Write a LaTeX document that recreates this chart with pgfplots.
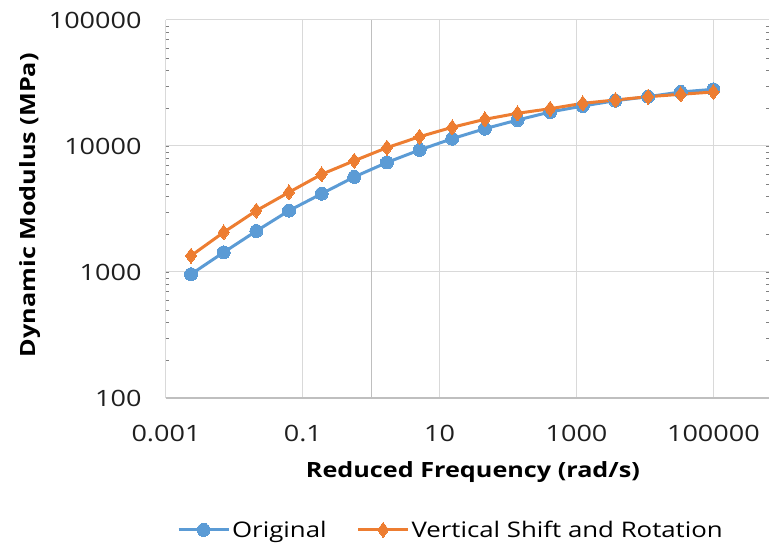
\documentclass[border=0pt]{standalone}
\usepackage{fontspec}
\setmainfont{Open Sans}[FakeStretch=1.2]
\usepackage{pgfplots}
\pgfplotsset{compat=1.18}
\definecolor{cblue}{HTML}{5B9BD5}
\definecolor{corange}{HTML}{ED7D31}
\definecolor{gridgray}{HTML}{D9D9D9}
\definecolor{axisgray}{HTML}{BFBFBF}
\begin{document}
\begin{tikzpicture}
\path[use as bounding box] (-166pt,-150pt) rectangle (603pt,398pt);
\begin{axis}[
  scale only axis,
  width=603pt, height=378pt,
  xmode=log, ymode=log,
  xmin=0.001, xmax=650000,
  ymin=100, ymax=100000,
  xtick={0.001,0.1,10,1000,100000},
  xticklabels={0.001,0.1,10,1000,100000},
  ytick={100,1000,10000,100000},
  yticklabels={100,1000,10000,100000},
  minor xtick={}, minor ytick={},
  major tick length=0pt,
  grid=major,
  major grid style={color=gridgray, line width=1pt},
  axis line style={draw=none},
  clip=false,
  /pgf/number format/assume math mode=true,
  tick label style={font=\fontsize{22.5}{26}\selectfont, text=black!88},
  xticklabel style={yshift=-24pt},
  yticklabel style={xshift=-21pt},
  every axis x label/.style={at={(axis description cs:0.509,-0.196)},anchor=center},
  every axis y label/.style={at={(axis description cs:-0.225,0.51)},rotate=90,anchor=center},
  label style={font=\fontsize{21}{25}\selectfont\bfseries},
  xlabel={Reduced Frequency (rad/s)},
  ylabel={Dynamic Modulus (MPa)},
  legend columns=2,
  legend style={draw=none, at={(axis description cs:0.4726,-0.349)}, anchor=center,
    font=\fontsize{21.5}{25}\selectfont,
    /tikz/every even column/.append style={column sep=28pt}},
  legend image code/.code={\draw[mark repeat=2,mark phase=2] plot coordinates {(0pt,0pt) (25pt,0pt) (50pt,0pt)};},
]
\draw[color=axisgray, line width=1.2pt] (axis cs:0.001,100) -- (axis cs:650000,100);
\draw[color=axisgray, line width=1.2pt] (axis cs:1,100) -- (axis cs:1,100000);
\addplot[color=cblue, line width=3pt, mark=*, mark size=6.5pt, mark options={fill=cblue, draw=cblue, line width=0pt}] coordinates {
(0.0023231,960) (0.0069692,1432) (0.020908,2115) (0.062723,3067) (0.18817,4180)
(0.56450,5680) (1.6935,7400) (5.0805,9300) (15.242,11430) (45.725,13720)
(137.17,16070) (411.52,18620) (1234.57,20770) (3703.7,22890) (11111.1,24620)
(33333.3,26830) (100000,28180)
};
\addlegendentry{Original}
\addplot[color=corange, line width=3pt, mark=diamond*, mark size=7.5pt, mark options={fill=corange, draw=corange, line width=0pt}] coordinates {
(0.0023231,1346) (0.0069692,2066) (0.020908,3067) (0.062723,4292) (0.18817,5960)
(0.56450,7640) (1.6935,9700) (5.0805,11850) (15.242,14070) (45.725,16290)
(137.17,18180) (411.52,19770) (1234.57,21810) (3703.7,23190) (11111.1,24620)
(33333.3,25720) (100000,26830)
};
\addlegendentry{Vertical Shift and Rotation}
\end{axis}
\end{tikzpicture}
\end{document}
